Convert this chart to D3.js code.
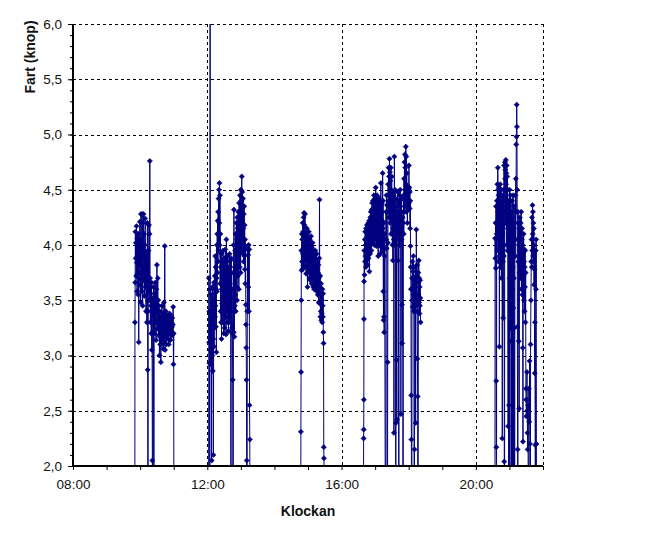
<!DOCTYPE html>
<html><head><meta charset="utf-8">
<script src="https://cdn.jsdelivr.net/npm/d3@7"></script>
<style>body{margin:0;background:#fff}svg{display:block}text{font-family:Arial,"Liberation Sans",sans-serif}</style>
</head><body>
<svg id="chart" width="649" height="534"></svg>
<script>
// ---- data (time in minutes after midnight, speed in knots) ----
const xTickMinutes = [480, 720, 960, 1200];
const xTickLabels = ["08:00", "12:00", "16:00", "20:00"];
const yTickValues = [2.0, 2.5, 3.0, 3.5, 4.0, 4.5, 5.0, 5.5, 6.0];
const yTickLabels = ["2,0", "2,5", "3,0", "3,5", "4,0", "4,5", "5,0", "5,5", "6,0"];
const xTitle = "Klockan";
const yTitle = "Fart (knop)";

const session1 = [[590.4,0],[590.7,3.30],[591.1,3.66],[591.5,4.12],[592.0,3.88],[592.5,4.02],[593.0,3.72],[593.5,4.17],[594.0,3.84],[594.5,3.58],[595.0,4.06],[595.5,3.74],[596.0,3.96],[596.5,3.55],[597.0,4.10],[597.5,3.12],[598.0,3.70],[598.5,4.00],[599.0,3.82],[599.5,4.21],[600.0,3.64],[600.5,4.05],[601.0,3.48],[601.5,4.28],[602.0,3.76],[602.5,4.00],[603.0,3.58],[603.5,4.28],[604.0,3.80],[604.5,3.45],[605.0,4.20],[605.5,3.90],[606.0,4.28],[606.5,3.68],[607.0,4.10],[607.5,3.54],[608.0,4.00],[608.5,3.79],[609.0,4.24],[609.5,3.62],[610.0,3.94],[610.5,3.40],[611.0,3.75],[611.5,3.90],[612.0,3.30],[612.5,3.62],[613.0,4.20],[613.5,2.87],[614.0,0],[614.4,3.40],[614.8,3.95],[615.3,3.58],[615.8,4.18],[616.3,3.50],[616.8,4.10],[617.3,4.76],[617.8,3.70],[618.3,3.30],[618.8,3.62],[619.3,3.45],[619.8,3.20],[620.3,3.66],[620.8,3.05],[621.3,3.50],[621.8,2.05],[622.3,0],[622.8,3.52],[623.3,3.36],[623.8,3.62],[624.6,0],[625.0,3.40],[625.5,3.56],[626.0,3.20],[626.5,3.46],[627.0,3.66],[627.5,3.30],[628.0,3.52],[628.5,3.14],[629.0,3.60],[629.5,3.40],[630.0,3.82],[630.5,3.24],[631.0,3.45],[631.5,3.70],[632.0,3.30],[632.5,3.50],[633.0,3.18],[633.5,3.45],[634.0,3.34],[634.5,3.00],[635.0,3.40],[635.5,3.25],[636.0,3.10],[636.5,3.35],[637.0,2.94],[637.5,3.20],[638.0,3.10],[638.5,3.30],[639.0,3.45],[639.5,3.15],[640.0,3.38],[640.5,3.22],[641.0,3.34],[641.5,3.06],[642.0,3.28],[642.5,3.48],[643.0,3.30],[643.5,3.12],[644.0,3.99],[644.5,3.05],[645.0,3.35],[645.5,3.20],[646.0,3.40],[646.5,3.10],[647.0,3.30],[647.5,3.18],[648.0,3.36],[648.5,3.22],[649.0,3.30],[649.5,3.15],[650.0,3.35],[650.5,3.26],[651.0,3.10],[651.5,3.32],[652.0,3.24],[652.5,3.38],[653.0,3.20],[653.5,3.30],[654.0,3.14],[654.5,3.28],[655.0,3.36],[655.5,3.22],[656.0,3.30],[656.5,3.18],[657.0,3.26],[657.5,3.34],[658.0,3.20],[658.5,3.28],[659.0,3.44],[659.5,2.92],[660.0,3.20],[660.4,0]];

const session2 = [[722.0,0],[722.8,3.70],[723.2,3.12],[723.6,3.40],[724.0,2.93],[724.6,0],[725.0,8.0],[725.4,3.05],[725.8,3.60],[726.2,2.92],[726.6,3.35],[727.0,3.55],[727.4,3.10],[727.8,2.05],[728.2,3.20],[728.6,3.48],[729.0,3.00],[729.4,3.62],[729.8,2.86],[730.2,3.40],[730.6,3.15],[731.0,2.10],[731.4,3.30],[731.8,3.66],[732.2,3.08],[732.6,3.50],[733.0,3.25],[733.4,3.72],[733.8,3.35],[734.2,3.90],[734.6,3.45],[735.0,3.80],[735.4,3.26],[735.8,3.60],[736.2,3.03],[736.6,3.70],[737.0,4.00],[737.4,3.58],[737.8,4.10],[738.2,3.75],[738.6,4.22],[739.0,3.85],[739.4,4.30],[739.8,3.95],[740.2,4.42],[740.6,4.10],[741.0,4.50],[741.4,4.20],[741.8,4.56],[742.2,4.00],[742.6,4.45],[743.0,3.65],[743.4,4.10],[743.8,3.40],[744.2,3.80],[744.6,3.30],[745.0,3.92],[745.4,3.15],[745.8,3.60],[746.2,3.47],[746.6,3.85],[747.0,3.30],[747.4,3.70],[747.8,3.50],[748.2,3.95],[748.6,3.38],[749.0,3.82],[749.4,3.20],[749.8,3.65],[750.2,3.45],[750.6,3.88],[751.0,3.25],[751.4,3.72],[751.8,3.55],[752.2,3.96],[752.6,3.35],[753.0,3.70],[753.4,3.19],[753.8,3.62],[754.2,4.05],[754.6,3.45],[755.0,3.85],[755.4,3.30],[755.8,3.70],[756.2,3.52],[756.6,3.90],[757.0,3.40],[757.4,3.75],[757.8,3.22],[758.2,3.60],[758.6,3.35],[759.0,3.80],[759.4,3.48],[759.8,3.92],[760.2,3.30],[760.6,3.65],[761.0,3.40],[761.4,3.86],[761.8,3.52],[762.3,0],[762.8,3.88],[763.2,3.40],[763.6,3.75],[764.0,3.25],[764.4,3.60],[764.8,3.20],[765.4,2.78],[766.2,0],[766.8,4.00],[767.2,3.21],[767.6,4.32],[768.0,3.60],[768.4,3.17],[768.8,3.80],[769.2,3.45],[769.6,3.95],[770.0,3.55],[770.4,4.10],[770.8,3.40],[771.2,3.95],[771.6,3.62],[772.0,4.20],[772.4,3.80],[772.8,4.05],[773.2,3.50],[773.6,4.25],[774.0,3.85],[774.4,4.15],[774.8,3.72],[775.2,4.30],[775.6,3.90],[776.0,4.20],[776.4,3.60],[776.8,4.38],[777.2,3.95],[777.6,4.25],[778.0,3.80],[778.4,4.45],[778.8,4.00],[779.2,4.30],[779.6,3.75],[780.0,4.50],[780.4,4.10],[780.8,4.40],[781.2,3.95],[781.6,4.62],[782.0,4.20],[782.4,4.48],[782.8,4.05],[783.2,4.35],[783.6,3.92],[784.0,4.42],[784.4,4.15],[784.8,3.85],[785.2,4.28],[785.6,4.00],[786.0,4.35],[786.4,3.90],[786.8,4.18],[787.2,3.78],[787.6,4.05],[788.0,3.65],[788.4,3.96],[788.8,3.46],[789.2,3.28],[789.6,3.07],[790.0,2.78],[790.4,2.05],[790.9,0],[791.5,3.40],[792.0,3.99],[792.5,3.40],[793.0,3.91],[793.5,3.62],[794.0,4.00],[794.5,3.40],[795.0,3.96],[795.5,2.55],[796.0,2.24],[796.5,0]];

const session3 = [[886.5,0],[887.3,2.31],[887.6,2.85],[887.9,3.50],[888.2,3.95],[888.6,3.77],[889.0,4.10],[889.4,3.85],[889.8,4.05],[890.2,3.78],[890.6,4.20],[891.0,3.92],[891.4,4.12],[891.8,3.82],[892.2,4.25],[892.6,3.98],[893.0,4.29],[893.4,3.90],[893.8,4.18],[894.2,3.80],[894.6,4.28],[895.0,3.95],[895.4,4.10],[895.8,3.86],[896.2,4.02],[896.6,3.74],[897.0,4.08],[897.4,3.90],[897.8,4.15],[898.2,3.80],[898.6,3.96],[899.0,3.62],[899.4,3.92],[899.8,4.05],[900.2,3.75],[900.6,4.00],[901.0,3.85],[901.4,4.12],[901.8,3.78],[902.2,3.98],[902.6,3.70],[903.0,4.05],[903.4,3.82],[903.8,3.95],[904.2,3.68],[904.6,4.00],[905.0,3.78],[905.4,4.08],[905.8,3.72],[906.2,3.92],[906.6,3.65],[907.0,3.98],[907.4,3.80],[907.8,3.70],[908.2,4.02],[908.6,3.76],[909.0,3.90],[909.4,3.62],[909.8,3.95],[910.2,3.72],[910.6,3.85],[911.0,3.60],[911.4,3.92],[911.8,3.70],[912.2,3.82],[912.6,3.66],[913.0,3.95],[913.4,3.74],[913.8,3.88],[914.2,3.62],[914.6,3.80],[915.0,3.68],[915.4,3.92],[915.8,3.58],[916.2,3.78],[916.6,3.65],[917.0,3.85],[917.4,3.55],[917.8,3.75],[918.2,3.62],[918.6,3.82],[919.0,3.48],[919.4,3.70],[919.8,3.62],[920.2,3.88],[920.6,4.41],[921.0,3.60],[921.4,3.47],[921.8,3.72],[922.2,3.35],[922.6,3.60],[923.0,3.40],[923.4,3.65],[923.8,3.32],[924.2,3.55],[924.6,3.38],[925.0,3.50],[925.4,3.30],[925.8,3.60],[926.2,3.45],[926.6,3.35],[927.0,3.56],[927.4,3.21],[927.8,3.11],[928.2,2.17],[928.5,2.07],[928.8,0]];

const session4 = [[999.0,0],[999.4,2.25],[999.6,2.33],[999.8,2.60],[1000.0,3.33],[1000.2,3.67],[1000.6,3.95],[1001.0,3.73],[1001.4,4.05],[1001.8,3.85],[1002.2,4.12],[1002.6,3.90],[1003.0,4.00],[1003.4,3.80],[1003.8,4.15],[1004.2,3.92],[1004.6,4.05],[1005.0,3.86],[1005.4,4.18],[1005.8,3.95],[1006.2,4.08],[1006.6,3.82],[1007.0,4.12],[1007.4,3.96],[1007.8,4.20],[1008.2,3.88],[1008.6,4.10],[1009.0,3.95],[1009.4,4.22],[1009.8,3.76],[1010.2,4.05],[1010.6,4.15],[1011.0,3.92],[1011.4,4.25],[1011.8,4.00],[1012.2,4.30],[1012.6,4.05],[1013.0,4.20],[1013.4,3.95],[1013.8,4.32],[1014.2,4.10],[1014.6,4.38],[1015.0,4.02],[1015.4,4.28],[1015.8,4.12],[1016.2,4.40],[1016.6,4.05],[1017.0,4.30],[1017.4,4.15],[1017.8,4.45],[1018.2,4.00],[1018.6,4.35],[1019.0,4.10],[1019.4,4.42],[1019.8,4.18],[1020.2,4.30],[1020.6,4.05],[1021.0,4.52],[1021.4,4.20],[1021.8,4.38],[1022.2,3.99],[1022.6,4.30],[1023.0,4.12],[1023.4,4.45],[1023.8,4.08],[1024.2,4.36],[1024.6,4.02],[1025.0,4.25],[1025.4,3.90],[1025.8,4.40],[1026.2,4.10],[1026.6,4.30],[1027.0,4.00],[1027.4,4.42],[1027.8,4.15],[1028.2,4.35],[1028.6,4.05],[1029.0,4.28],[1029.4,3.92],[1029.8,4.20],[1030.2,4.56],[1030.6,4.10],[1031.0,4.30],[1031.4,3.98],[1031.8,4.38],[1032.2,4.08],[1032.6,4.22],[1033.0,3.95],[1033.4,4.65],[1033.8,4.15],[1034.2,4.40],[1034.6,3.58],[1035.0,3.32],[1035.4,4.20],[1035.8,3.35],[1036.2,3.21],[1036.6,4.10],[1037.0,3.90],[1038.9,0],[1039.4,4.30],[1039.8,4.05],[1040.2,4.45],[1040.6,3.97],[1041.0,4.36],[1041.9,0],[1042.4,2.94],[1042.8,4.02],[1043.2,4.55],[1043.6,4.30],[1044.0,4.70],[1044.4,4.40],[1044.8,4.62],[1045.2,4.25],[1045.6,4.78],[1046.0,4.45],[1046.4,4.66],[1046.8,4.20],[1047.2,4.58],[1047.6,4.35],[1048.0,4.70],[1048.4,4.10],[1048.8,4.50],[1049.2,4.30],[1049.6,4.62],[1050.0,4.22],[1050.4,4.48],[1050.8,4.00],[1051.2,4.40],[1051.6,3.86],[1052.0,4.35],[1052.4,4.15],[1052.8,4.45],[1053.2,4.05],[1053.6,2.30],[1054.0,4.25],[1054.4,4.80],[1054.8,4.38],[1055.2,4.00],[1055.6,4.50],[1056.0,4.20],[1056.4,4.42],[1056.8,0],[1057.2,2.39],[1057.6,4.30],[1058.0,4.05],[1058.4,2.96],[1058.8,2.42],[1059.2,4.35],[1059.6,4.10],[1060.0,4.48],[1060.4,4.20],[1060.8,4.40],[1061.2,3.86],[1061.6,4.30],[1062.4,0],[1062.8,4.25],[1063.2,4.45],[1063.6,4.00],[1064.0,4.38],[1064.4,4.15],[1064.8,4.50],[1065.2,4.10],[1065.6,4.35],[1066.0,2.47],[1066.4,4.20],[1066.8,4.42],[1067.2,4.05],[1067.6,4.30],[1068.0,3.46],[1068.4,3.11],[1068.8,4.10],[1069.2,4.25],[1069.9,0],[1070.4,4.20],[1070.8,4.45],[1071.2,4.10],[1071.6,4.60],[1072.0,4.30],[1072.4,4.75],[1072.8,4.40],[1073.2,4.82],[1073.6,4.50],[1074.0,4.70],[1074.4,4.35],[1074.8,4.89],[1075.2,4.55],[1075.6,4.80],[1076.0,4.30],[1076.4,4.65],[1076.8,4.40],[1077.2,4.50],[1077.6,4.20],[1078.0,4.45],[1078.4,4.32],[1078.8,4.53],[1079.2,4.35],[1079.6,4.50],[1080.0,4.38],[1080.4,4.72],[1080.8,4.40],[1081.2,4.52],[1081.6,4.33],[1082.0,4.48],[1082.4,4.15],[1082.8,4.40],[1083.2,3.99],[1083.6,3.80],[1084.0,3.60],[1084.4,2.64],[1084.8,2.24],[1085.4,0],[1085.9,3.70],[1086.3,3.50],[1086.7,3.85],[1087.1,3.44],[1087.5,3.76],[1087.9,3.55],[1088.3,3.90],[1088.7,3.40],[1089.2,3.62],[1090.0,0],[1090.4,2.15],[1090.8,3.70],[1091.2,3.48],[1091.6,3.80],[1092.0,3.55],[1092.4,2.39],[1092.8,3.66],[1093.2,3.45],[1093.6,4.14],[1094.0,3.72],[1094.4,3.50],[1094.8,3.82],[1095.2,3.40],[1095.6,2.97],[1096.0,2.63],[1096.6,0],[1097.2,3.75],[1097.6,3.55],[1098.0,3.86],[1098.4,3.48],[1098.8,3.70],[1099.2,3.38],[1099.6,3.62],[1100.0,3.45],[1100.4,3.68],[1100.8,3.52],[1101.2,3.30]];

const session5 = [[1234.0,0],[1234.4,4.06],[1234.8,3.88],[1235.2,4.20],[1235.6,3.79],[1236.0,4.35],[1236.4,2.77],[1236.6,2.17],[1236.8,0],[1237.2,4.10],[1237.6,4.40],[1238.0,3.95],[1238.4,4.55],[1238.8,4.15],[1239.2,4.70],[1239.6,4.30],[1240.0,4.50],[1240.4,3.85],[1240.8,4.45],[1241.2,4.05],[1241.6,4.52],[1242.0,3.08],[1242.4,3.90],[1242.8,4.40],[1243.2,4.10],[1243.6,4.55],[1244.0,3.80],[1244.4,4.35],[1244.8,4.00],[1245.2,4.50],[1245.6,3.70],[1246.0,4.25],[1246.4,3.95],[1246.8,4.45],[1247.2,2.25],[1247.6,4.10],[1248.0,4.40],[1248.4,3.85],[1248.8,3.34],[1249.2,4.20],[1249.6,4.50],[1250.0,3.90],[1250.4,4.72],[1250.8,2.04],[1251.2,0],[1251.6,4.30],[1252.0,4.75],[1252.4,4.60],[1252.8,4.68],[1253.2,4.20],[1253.6,4.77],[1254.0,4.55],[1254.4,4.65],[1254.8,4.00],[1255.2,4.72],[1255.6,4.40],[1256.0,4.62],[1256.4,3.95],[1256.8,4.50],[1257.2,4.15],[1257.6,2.36],[1258.0,4.40],[1258.9,0],[1259.2,2.55],[1259.6,4.35],[1260.0,3.70],[1260.3,4.50],[1260.6,0],[1261.0,4.20],[1261.4,3.49],[1261.8,4.45],[1262.2,3.25],[1262.6,4.10],[1263.0,3.13],[1263.4,0],[1263.8,4.30],[1264.2,3.90],[1264.6,4.40],[1265.0,3.60],[1265.2,0],[1265.6,4.25],[1266.0,3.80],[1266.4,4.45],[1266.8,3.43],[1267.2,0],[1267.6,4.15],[1268.0,3.70],[1268.4,4.35],[1268.8,3.25],[1269.3,0],[1269.8,4.20],[1270.2,3.90],[1270.6,4.45],[1271.0,4.05],[1271.4,4.60],[1271.8,4.30],[1272.2,4.91],[1272.6,4.98],[1273.0,5.27],[1273.4,5.07],[1273.8,4.50],[1274.2,3.26],[1274.6,2.15],[1275.0,0],[1275.4,4.30],[1275.8,3.85],[1276.2,4.20],[1276.6,3.13],[1277.0,4.00],[1277.4,2.52],[1277.8,4.15],[1278.2,3.75],[1278.6,4.25],[1279.0,3.90],[1279.4,4.10],[1279.8,3.70],[1280.2,4.20],[1280.6,3.85],[1281.0,4.30],[1281.4,3.60],[1281.8,4.05],[1282.2,3.80],[1282.6,4.15],[1283.0,3.55],[1283.4,4.00],[1283.8,3.07],[1284.2,2.22],[1284.6,3.90],[1285.0,3.70],[1285.4,4.10],[1285.8,3.50],[1286.2,3.85],[1286.6,3.96],[1287.0,3.40],[1287.4,3.80],[1287.8,3.62],[1288.2,3.95],[1288.6,3.30],[1289.0,3.75],[1289.4,2.70],[1289.8,2.60],[1290.2,2.45],[1291.0,2.60],[1291.4,2.85],[1291.8,2.50],[1292.2,2.30],[1292.6,2.15],[1293.2,2.55],[1294.3,0],[1294.8,2.70],[1295.4,2.40],[1296.0,2.95],[1296.6,2.20],[1297.3,0],[1297.8,3.10],[1298.4,3.50],[1299.0,3.85],[1299.6,4.05],[1300.0,3.80],[1300.4,4.25],[1300.8,3.95],[1301.2,4.36],[1301.6,4.10],[1302.0,4.30],[1302.4,3.90],[1302.8,4.20],[1303.2,3.85],[1303.6,4.15],[1304.0,3.64],[1304.4,4.00],[1304.8,3.78],[1305.2,2.84],[1305.6,3.30],[1306.0,2.19],[1306.4,0],[1307.0,3.95],[1307.4,3.60],[1307.8,4.05],[1308.2,2.20],[1308.6,0]];

const sessions = [session1, session2, session3, session4, session5];

(function () {
// ---- layout ----
const svg = d3.select("#chart");
const pL = 73, pR = 543, pT = 24, pB = 466;
const x = d3.scaleLinear().domain([480, 1320]).range([pL, pR]);
const y = d3.scaleLinear().domain([2, 6]).range([pB, pT]);
const navy = "#000080";

svg.append("rect").attr("width", 649).attr("height", 534).attr("fill", "#fff");

svg.append("defs").append("clipPath").attr("id", "plotclip")
  .append("rect").attr("x", pL).attr("y", pT).attr("width", pR - pL).attr("height", pB - pT);

// gridlines
const grid = svg.append("g").attr("stroke", "#000").attr("stroke-width", 1).attr("stroke-dasharray", "3,3");
grid.selectAll("line.h").data(yTickValues.slice(1)).join("line")
  .attr("x1", pL).attr("x2", pR)
  .attr("y1", d => Math.round(y(d)) + 0.5).attr("y2", d => Math.round(y(d)) + 0.5);
grid.selectAll("line.v").data(xTickMinutes.slice(1).concat([1320])).join("line")
  .attr("y1", pT).attr("y2", pB)
  .attr("x1", d => Math.round(x(d)) + 0.5).attr("x2", d => Math.round(x(d)) + 0.5);

// series
const line = d3.line().x(d => x(d[0])).y(d => y(d[1]));
const plot = svg.append("g").attr("clip-path", "url(#plotclip)");
sessions.forEach(s => {
  plot.append("path").datum(s).attr("d", line)
    .attr("fill", "none").attr("stroke", navy).attr("stroke-width", 1);
});
const marker = "M0,-2.6L2.6,0L0,2.6L-2.6,0Z";
sessions.forEach(s => {
  plot.append("g").selectAll("path").data(s).join("path")
    .attr("d", marker)
    .attr("transform", d => `translate(${x(d[0])},${y(d[1])})`)
    .attr("fill", navy).attr("stroke", navy).attr("stroke-width", 0.6);
});

// y axis
const yMinor = d3.range(20, 61).map(v => v / 10);
const yAxisMinor = d3.axisLeft(y).tickValues(yMinor).tickSize(3).tickFormat("");
const ga1 = svg.append("g").attr("transform", `translate(${pL},0)`).call(yAxisMinor);
ga1.select(".domain").remove();
const yAxis = d3.axisLeft(y).tickValues(yTickValues).tickSize(5).tickPadding(6)
  .tickFormat((d, i) => yTickLabels[i]);
const ga2 = svg.append("g").attr("transform", `translate(${pL},0)`).call(yAxis);
ga2.select(".domain").remove();

// x axis
const xHours = d3.range(480, 1321, 60);
const xAxis = d3.axisBottom(x).tickValues(xHours).tickSize(4).tickPadding(9)
  .tickFormat(d => { const i = xTickMinutes.indexOf(d); return i >= 0 ? xTickLabels[i] : ""; });
const gx = svg.append("g").attr("transform", `translate(0,${pB})`).call(xAxis);
gx.select(".domain").remove();

[ga1, ga2, gx].forEach(g => {
  g.selectAll("line").attr("stroke", "#000");
  g.selectAll("text").attr("fill", "#111").style("font-size", "13.5px").style("font-family", "Arial, 'Liberation Sans', sans-serif");
});

// axis lines
svg.append("line").attr("x1", pL).attr("x2", pL).attr("y1", pT).attr("y2", pB + 1)
  .attr("stroke", "#000").attr("stroke-width", 2);
svg.append("line").attr("x1", pL - 1).attr("x2", pR).attr("y1", pB).attr("y2", pB)
  .attr("stroke", "#000").attr("stroke-width", 2);

// titles
svg.append("text").attr("x", 308).attr("y", 516).attr("text-anchor", "middle")
  .style("font-size", "14px").style("font-weight", "bold").attr("fill", "#111").text(xTitle);
svg.append("text").attr("transform", "translate(35,57) rotate(-90)").attr("text-anchor", "middle")
  .style("font-size", "14px").style("font-weight", "bold").attr("fill", "#111").text(yTitle);
})();
</script>
</body></html>
